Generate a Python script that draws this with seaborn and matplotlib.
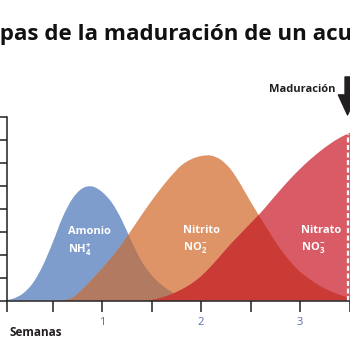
import numpy as np
import pandas as pd
import matplotlib
matplotlib.use("Agg")
import matplotlib.pyplot as plt
from matplotlib.path import Path
from matplotlib.patches import PathPatch
import seaborn as sns

# ---------------- data ----------------
weeks = [0.0, 0.1, 0.2, 0.3, 0.4, 0.5, 0.6, 0.7, 0.8, 0.9,
         1.0, 1.1, 1.2, 1.3, 1.4, 1.5, 1.6, 1.7, 1.8, 1.9,
         2.0, 2.1, 2.2, 2.3, 2.4, 2.5, 2.6, 2.7, 2.8, 2.9,
         3.0, 3.1, 3.2, 3.3, 3.4, 3.5, 3.6]
amonio = [0.0, 0.08, 0.3, 0.75, 1.5, 2.5, 3.6, 4.42, 4.87, 4.96,
          4.72, 4.25, 3.5, 2.55, 1.7, 1.1, 0.68, 0.38, 0.13, 0.0,
          0.0, 0.0, 0.0, 0.0, 0.0, 0.0, 0.0, 0.0, 0.0, 0.0,
          0.0, 0.0, 0.0, 0.0, 0.0, 0.0, 0.0]
nitrito = [0.0, 0.0, 0.0, 0.0, 0.0, 0.0, 0.0, 0.12, 0.48, 0.93,
           1.4, 1.9, 2.45, 3.08, 3.72, 4.33, 4.9, 5.42, 5.87, 6.14,
           6.28, 6.3, 6.12, 5.7, 5.05, 4.3, 3.6, 2.9, 2.25, 1.7,
           1.25, 0.92, 0.64, 0.42, 0.25, 0.13, 0.05]
nitrato = [0.0, 0.0, 0.0, 0.0, 0.0, 0.0, 0.0, 0.0, 0.0, 0.0,
           0.0, 0.0, 0.0, 0.0, 0.0, 0.02, 0.12, 0.27, 0.47, 0.72,
           1.05, 1.48, 1.96, 2.45, 2.9, 3.35, 3.8, 4.3, 4.8, 5.28,
           5.72, 6.12, 6.48, 6.8, 7.07, 7.28, 7.4]
tick_pos = [0.04, 0.5, 1.0, 1.5, 2.0, 2.5, 3.0, 3.5]
tick_lab = ["", "", "1", "", "2", "", "3", ""]
maduracion_x = 3.48

title_full = "Etapas de la maduración de un acuario"
title_hidden = "Eta"
title_visible = "pas de la maduración de un ac"

BLUE = "#7f9dcc"
ORANGE = "#de9467"
RED = "#d95b65"
BROWN = "#b27a61"
DARKRED = "#ca3b35"
INK = "#231f20"

# ---------------- style ----------------
sns.set_theme(style="white")
plt.rcParams["font.family"] = ["Open Sans", "DejaVu Sans"]
plt.rcParams["mathtext.fontset"] = "custom"
plt.rcParams["mathtext.rm"] = "Open Sans:bold"
plt.rcParams["mathtext.it"] = "Open Sans:bold"
plt.rcParams["mathtext.bf"] = "Open Sans:bold"
plt.rcParams["mathtext.default"] = "rm"

df = pd.DataFrame({"semana": weeks, "Amonio": amonio,
                   "Nitrito": nitrito, "Nitrato": nitrato})


def area_path(x, y):
    """Closed area under a smooth (Catmull-Rom -> Bezier) curve through the points."""
    P = np.column_stack([np.asarray(x, float), np.asarray(y, float)])
    E = np.vstack([P[0], P, P[-1]])
    verts = [(P[0, 0], 0.0), tuple(P[0])]
    codes = [Path.MOVETO, Path.LINETO]
    for i in range(len(P) - 1):
        p0, p1, p2, p3 = E[i], E[i + 1], E[i + 2], E[i + 3]
        c1 = p1 + (p2 - p0) / 6.0
        c2 = p2 - (p3 - p1) / 6.0
        verts += [tuple(c1), tuple(c2), tuple(p2)]
        codes += [Path.CURVE4] * 3
    verts += [(P[-1, 0], 0.0), (P[0, 0], 0.0)]
    codes += [Path.LINETO, Path.CLOSEPOLY]
    return Path(verts, codes)


fig = plt.figure(figsize=(3.5, 3.5), dpi=100)
ax = fig.add_axes([7 / 350, (350 - 300.5) / 350, 353 / 350, 184 / 350])

# seaborn sets up the axes from the data (lines kept invisible,
# the smooth areas below carry the look)
for col in ["Amonio", "Nitrito", "Nitrato"]:
    sns.lineplot(data=df, x="semana", y=col, lw=0, ax=ax)

w = df["semana"]
pa = area_path(w, df["Amonio"])
pn = area_path(w, df["Nitrito"])
pr = area_path(w, df["Nitrato"])

blue = PathPatch(pa, facecolor=BLUE, lw=0, transform=ax.transData, zorder=2)
orange = PathPatch(pn, facecolor=ORANGE, lw=0, transform=ax.transData, zorder=2)
red = PathPatch(pr, facecolor=RED, lw=0, transform=ax.transData, zorder=2)
for p in (blue, orange, red):
    ax.add_patch(p)

brown = PathPatch(pn, facecolor=BROWN, lw=0, transform=ax.transData, zorder=3)
ax.add_patch(brown)
brown.set_clip_path(blue)
for clipper in (orange, blue):
    dr = PathPatch(pr, facecolor=DARKRED, lw=0, transform=ax.transData, zorder=3)
    ax.add_patch(dr)
    dr.set_clip_path(clipper)

top_r = np.interp(maduracion_x, weeks, nitrato)
ax.vlines(maduracion_x, 0, top_r, colors="white", linestyles=(0, (2.2, 1.2)),
          lw=1.6, zorder=4)

ax.set_xlim(0.0404, 3.606)
ax.set_ylim(0, 8)
ax.set_xlabel("")
ax.set_ylabel("")
ax.set_xticks(tick_pos)
ax.set_xticklabels(tick_lab)
ax.set_yticks(range(9))
ax.set_yticklabels([])
ax.tick_params(axis="x", bottom=True, length=8, width=1.1, color=INK,
               labelcolor="#5b6ea6", labelsize=8, pad=4, direction="out")
ax.tick_params(axis="y", left=True, length=9, width=1.1, color=INK,
               labelleft=False, direction="out")
for s in ["top", "right"]:
    ax.spines[s].set_visible(False)
for s in ["left", "bottom"]:
    ax.spines[s].set_color(INK)
    ax.spines[s].set_linewidth(1.1)
    ax.spines[s].set_zorder(5)

lab = dict(color="white", fontweight="bold", fontsize=8, ha="left", va="center", zorder=6)
ax.text(0.657, 3.0, "Amonio", **lab)
ax.text(0.657, 2.2, r"NH$_{4}^{+}$", **lab)
ax.text(1.82, 3.05, "Nitrito", **lab)
ax.text(1.82, 2.3, r"NO$_{2}^{-}$", **lab)
ax.text(3.01, 3.05, "Nitrato", **lab)
ax.text(3.01, 2.3, r"NO$_{3}^{-}$", **lab)

ax.annotate("", xy=(maduracion_x, 8.07), xytext=(maduracion_x, 9.72),
            arrowprops=dict(arrowstyle="simple,head_width=1.1,head_length=1.2,tail_width=0.3",
                            color=INK, shrinkA=0, shrinkB=0, mutation_scale=12),
            annotation_clip=False)
fig.text(336 / 350, 1 - 89 / 350, "Maduración", ha="right", va="center",
         fontsize=8, fontweight="bold", color=INK)
fig.text(10 / 350, 1 - 332 / 350, "Semanas", ha="left", va="center",
         fontsize=8.5, fontweight="bold", color=INK)

# title (cropped on both sides as in the reference)
renderer = fig.canvas.get_renderer()
probe = fig.text(0, 0, title_visible, fontsize=16, fontweight="bold")
wv = probe.get_window_extent(renderer).width
probe.remove()
fs = 16 * 338 / wv
probe = fig.text(0, 0, title_hidden, fontsize=fs, fontweight="bold")
wh = probe.get_window_extent(renderer).width
probe.remove()
fig.text(-wh / 350, 1 - 40 / 350, title_full, fontsize=fs, fontweight="bold",
         color="#111111", ha="left", va="baseline")

fig.savefig("out.png", dpi=100)
